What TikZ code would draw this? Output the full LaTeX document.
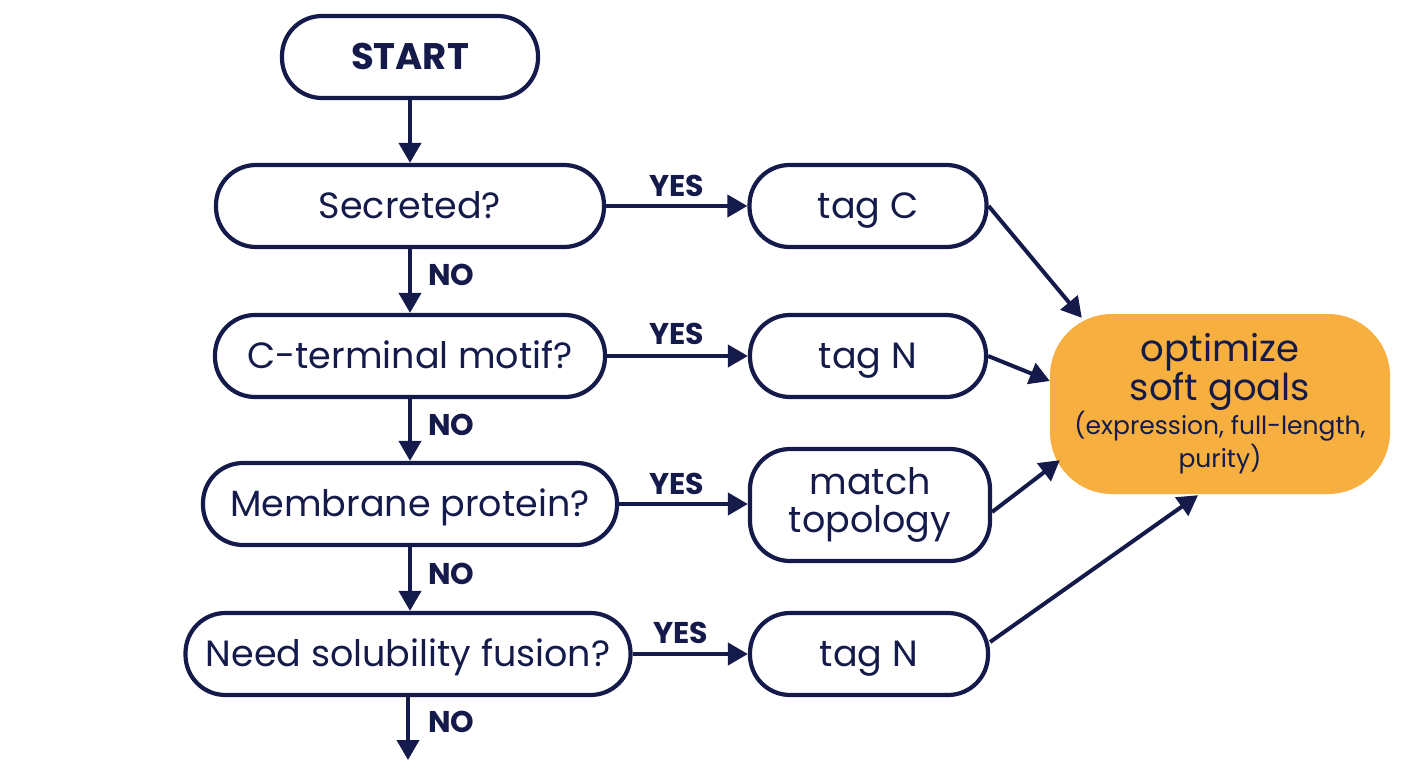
\documentclass[tikz,border=0pt]{standalone}
\usepackage{fontspec}
\setmainfont{Poppins}
\usetikzlibrary{arrows.meta,calc}
\definecolor{navy}{HTML}{141A4A}
\definecolor{gold}{HTML}{F7AF40}
\begin{document}
\begin{tikzpicture}[x=1pt,y=-1pt,
  box/.style={draw=navy, line width=4.2pt, rounded corners=40pt, minimum height=82pt, inner sep=0pt, text=navy, font=\fontsize{36.5}{40}\selectfont, align=center},
  one/.style={text height=26pt, text depth=1pt},
  arr/.style={draw=navy, line width=4pt, -{Triangle[length=20pt,width=22pt]}},
  lbl/.style={text=navy, font=\bfseries\fontsize{30}{32}\selectfont, inner sep=0pt}]
\useasboundingbox (0,0) rectangle (1408,768);
% left column
\node[box, one, minimum width=256pt, font=\bfseries\fontsize{37}{40}\selectfont] (start) at (410,57) {START};
\node[box, one, minimum width=388pt] (sec) at (410,206) {Secreted?};
\node[box, one, minimum width=390pt] (cterm) at (410,356) {C-terminal motif?};
\node[box, one, minimum width=414pt] (mem) at (410,504) {Membrane protein?};
\node[box, one, minimum width=445pt] (need) at (408,654) {Need solubility fusion?};
\coordinate (endp) at (408,760);
% right column
\node[box, one, minimum width=237pt] (tagc) at (868,206) {tag C};
\node[box, one, minimum width=236pt] (tagn1) at (868,356) {tag N};
\node[box, minimum width=240pt, minimum height=112pt] (match) at (870,505) {match\\[-2pt]topology};
\node[box, one, minimum width=238pt] (tagn2) at (869,654) {tag N};
% goal
\node[fill=gold, rounded corners=62pt, minimum width=340pt, minimum height=180pt, inner sep=0pt, text=navy, align=center] (goal) at (1220,404)
  {{\fontsize{37}{38}\selectfont optimize}\\{\fontsize{37}{38}\selectfont soft goals}\\[0pt]{\fontsize{25}{36}\selectfont (expression, full-length,}\\[2pt]{\fontsize{25}{34}\selectfont purity)}};
% vertical arrows
\draw[arr] (start.south) -- (start.south |- sec.north);
\draw[arr] (sec.south) -- (sec.south |- cterm.north);
\draw[arr] (cterm.south) -- (cterm.south |- mem.north);
\draw[arr] (mem.south) -- (mem.south |- need.north);
\draw[arr] (need.south) -- (endp);
% horizontal arrows
\draw[arr] (sec.east) -- (tagc.west);
\draw[arr] (cterm.east) -- (tagn1.west);
\draw[arr] (mem.east) -- (mem.east -| match.west);
\draw[arr] (need.east) -- (tagn2.west);
% to goal
\draw[arr] (tagc.east) -- ($(goal.north west)+(32,4)$);
\draw[arr] (tagn1.east) -- ($(goal.west)+(0,-23)$);
\draw[arr] ($(match.east)+(0,7)$) -- ($(goal.south west)+(10,-34)$);
\draw[arr] ($(tagn2.east)+(0,-12)$) -- ($(goal.south)+(-22,1)$);
% labels
\node[lbl] (y1) at (677,186) {YES};
\node[lbl] (y2) at (677,334) {YES};
\node[lbl] (y3) at (677,484) {YES};
\node[lbl] (y4) at (681,633) {YES};
\node[lbl, anchor=west] (n1) at (428,275) {NO};
\node[lbl, anchor=west] (n2) at (428,425) {NO};
\node[lbl, anchor=west] (n3) at (428,574) {NO};
\node[lbl, anchor=west] (n4) at (428,722) {NO};
\end{tikzpicture}
\end{document}
